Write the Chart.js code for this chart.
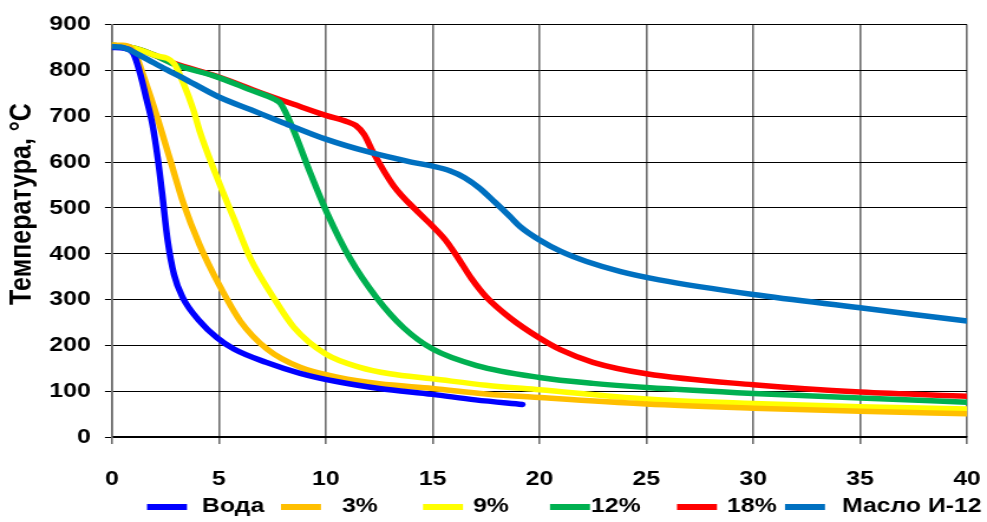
<!DOCTYPE html>
<html>
<head>
<meta charset="utf-8">
<script src="https://cdn.jsdelivr.net/npm/chart.js@4.4.0/dist/chart.umd.min.js"></script>
<style>
  html, body { margin: 0; padding: 0; background: #fff; overflow: hidden; }
  /* the source picture is stretched sideways, so the canvas is too */
  #wrap { width: 836px; height: 522px; transform: scaleX(1.1806); transform-origin: 0 0; }
</style>
</head>
<body>
<div id="wrap"><canvas id="chart" width="836" height="522"></canvas></div>
<script>
const STRETCH = 987 / 836;
const FONT = '"Liberation Sans", Arial, sans-serif';

// time, s / temperature, C
const vodaTime = [0, 0.6, 1.0, 1.31, 1.62, 1.9, 2.15, 2.35, 2.6, 2.9, 3.3, 4.1, 4.9, 5.7, 7.2, 8.8, 10.5, 12.5, 15, 17, 19.2];
const vodaTemp = [850, 848, 837, 794, 736, 680, 605, 530, 430, 355, 305, 253, 217, 192, 163, 139, 121, 106, 93, 81, 71];

const p3Time = [0, 0.5, 0.85, 1.15, 1.46, 2.1, 2.72, 3.34, 4.1, 5.0, 6.0, 7.25, 8.8, 10.6, 12.5, 15, 17.5, 20, 25, 30, 35, 40];
const p3Temp = [855, 855, 850, 830, 790, 700, 605, 510, 419, 333, 253, 192, 152, 130, 116, 106, 94, 86, 72, 63, 56, 51];

const p9Time = [0, 1.0, 2.0, 2.9, 3.34, 3.8, 4.1, 5.0, 5.7, 6.47, 7.56, 8.5, 10.0, 11.6, 13, 15, 17.5, 20, 25, 30, 35, 40];
const p9Temp = [855, 849, 833, 815, 772, 715, 668, 556, 477, 390, 304, 240, 181, 152, 138, 127, 113, 103, 83, 73, 66, 61];

const p12Time = [0, 1, 2, 2.87, 4.9, 6.5, 7.6, 7.9, 8.48, 9.26, 10.04, 11.13, 12.38, 13.63, 15, 17.06, 20, 22.5, 25, 30, 35, 40];
const p12Temp = [855, 849, 833, 814, 786, 757, 737, 727, 671, 578, 491, 390, 304, 239, 192, 156, 130, 117, 108, 95, 85, 76];

const p18Time = [0, 1, 2, 2.87, 4.9, 6.92, 8.5, 10, 11.0, 11.4, 11.8, 12.22, 13.16, 14.4, 15, 15.6, 16.2, 16.8, 17.5, 18.62, 20, 21, 22.5, 25, 30, 35, 40];
const p18Temp = [855, 849, 833, 816, 787, 752, 726, 702, 688, 680, 660, 621, 549, 487, 460, 430, 390, 347, 306, 260, 216, 190, 163, 138, 114, 98, 89];

const oilTime = [0, 0.4, 0.8, 1.5, 2.5, 3.5, 5, 6.5, 8, 10, 12, 14, 15, 15.8, 16.5, 17.2, 17.9, 18.6, 19.1, 20, 21, 22.2, 23.8, 25.6, 30, 35, 40];
const oilTemp = [852, 851, 845, 828, 803, 779, 742, 714, 686, 650, 622, 600, 591, 581, 566, 543, 513, 482, 459, 430, 405, 383, 361, 343, 311, 282, 253];

const seriesNames = ['Вода', '3%', '9%', '12%', '18%', 'Масло И-12'];
const seriesColors = ['#0000ff', '#ffbf00', '#ffff00', '#00b050', '#ff0000', '#0070c0'];
const seriesOrder = [1, 2, 3, 4, 5, 0];

// legend layout, in picture pixels
const legendLineX = [147, 281, 423, 550, 677, 785];
const legendTextX = [202, 342, 473, 591, 727, 842];

function points(ts, vs) {
  return ts.map((t, i) => ({ x: t, y: vs[i] }));
}

const allSeries = [
  points(vodaTime, vodaTemp),
  points(p3Time, p3Temp),
  points(p9Time, p9Temp),
  points(p12Time, p12Temp),
  points(p18Time, p18Temp),
  points(oilTime, oilTemp),
];

const yTitle = {
  id: 'yTitle',
  afterDraw(chart) {
    const ctx = chart.ctx;
    ctx.save();
    ctx.translate(23 / STRETCH, 204);
    ctx.rotate(-Math.PI / 2);
    ctx.font = `bold 25px ${FONT}`;
    ctx.fillStyle = '#000';
    ctx.textAlign = 'center';
    ctx.textBaseline = 'middle';
    ctx.fillText('Температура, °C', 0, 0);
    ctx.restore();
  }
};

const bottomLegend = {
  id: 'bottomLegend',
  afterDraw(chart) {
    const ctx = chart.ctx;
    ctx.save();
    ctx.font = `bold 21px ${FONT}`;
    ctx.fillStyle = '#000';
    ctx.textBaseline = 'middle';
    seriesNames.forEach((name, i) => {
      ctx.strokeStyle = seriesColors[i];
      ctx.lineWidth = 6;
      ctx.beginPath();
      ctx.moveTo(legendLineX[i] / STRETCH, 507);
      ctx.lineTo((legendLineX[i] + 40) / STRETCH, 507);
      ctx.stroke();
      ctx.fillText(name, legendTextX[i] / STRETCH, 506);
    });
    ctx.restore();
  }
};

new Chart(document.getElementById('chart'), {
  type: 'line',
  data: {
    datasets: allSeries.map((data, i) => ({
      label: seriesNames[i],
      data,
      borderColor: seriesColors[i],
      backgroundColor: seriesColors[i],
      order: seriesOrder[i],
      fill: false,
    }))
  },
  options: {
    responsive: false,
    animation: false,
    layout: { padding: { top: 21, right: 836 - 967 / STRETCH, left: 0, bottom: 0 } },
    elements: {
      point: { radius: 0 },
      line: { borderWidth: 5.5, cubicInterpolationMode: 'monotone', borderCapStyle: 'round' }
    },
    plugins: {
      legend: { display: false },
      tooltip: { enabled: false }
    },
    scales: {
      x: {
        type: 'linear',
        min: 0,
        max: 40,
        ticks: { stepSize: 5, color: '#000', padding: 23, maxRotation: 0, font: { family: FONT, size: 21, weight: 'bold' } },
        grid: { color: '#6e6e6e', lineWidth: 1.6, tickLength: 7 },
        border: { color: '#000', width: 1.5 },
        afterFit(s) {
          s.height = 85;
          s.paddingLeft = 0;
          s.paddingRight = 0;
        }
      },
      y: {
        min: 0,
        max: 900,
        ticks: { stepSize: 100, color: '#000', padding: 12, font: { family: FONT, size: 21, weight: 'bold' } },
        grid: { color: '#000', lineWidth: 1, tickLength: 6 },
        border: { color: '#6e6e6e', width: 1.6 },
        afterFit(s) { s.width = 112 / STRETCH; }
      }
    }
  },
  plugins: [yTitle, bottomLegend]
});
</script>
</body>
</html>
